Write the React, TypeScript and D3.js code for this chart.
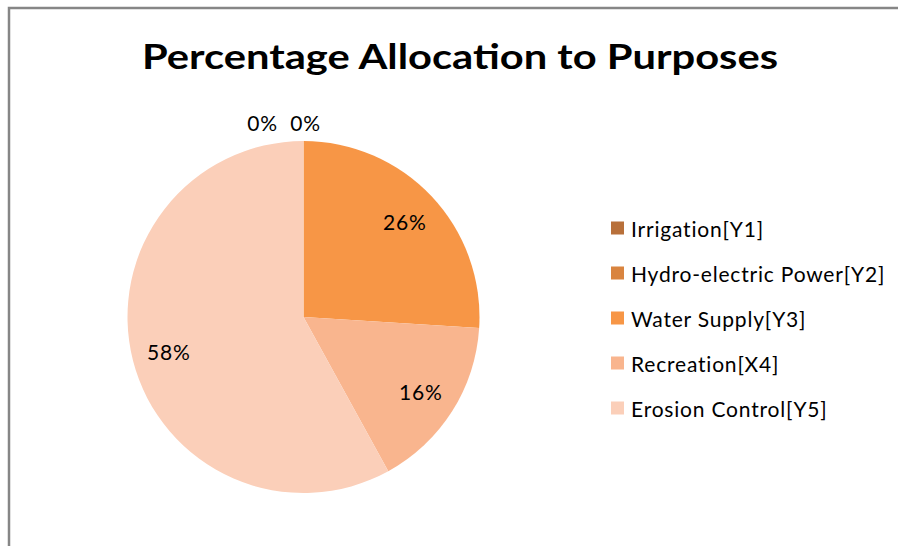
import React from "react";
import * as d3 from "d3";

const categories = [
  "Irrigation[Y1]",
  "Hydro-electric Power[Y2]",
  "Water Supply[Y3]",
  "Recreation[X4]",
  "Erosion Control[Y5]",
];
const values = [0, 0, 26, 16, 58];
const colors = ["#B8703A", "#D9843F", "#F79646", "#F9B58E", "#FBCFB9"];
const title = "Percentage Allocation to Purposes";

const W = 898;
const H = 546;
const cx = 303.5;
const cy = 317;
const R = 176;
const FONT = "Lato, 'Noto Sans', sans-serif";

export default function App() {
  const data = categories.map((c, i) => ({ name: c, value: values[i], color: colors[i] }));
  const pie = d3.pie<any>().sort(null).value((d) => d.value).startAngle(0).endAngle(2 * Math.PI);
  const arcs = pie(data);
  const arc = d3.arc<any>().innerRadius(0).outerRadius(R);
  const labelArc = d3.arc<any>().innerRadius(R * 0.79).outerRadius(R * 0.79);

  const total = d3.sum(values);
  const zeroIdx = arcs.map((a, i) => (a.data.value === 0 ? i : -1)).filter((i) => i >= 0);

  const legendY = d3.scalePoint<string>().domain(categories).range([228, 408]);

  return (
    <svg
      width={W}
      height={H}
      style={{ position: "absolute", left: 0, top: 0, background: "#fff" }}
    >
      <path d={`M9,${H} L9,8 L${W},8`} fill="none" stroke="#868686" strokeWidth={2.5} />
      <text
        x={460}
        y={69}
        textAnchor="middle"
        fontFamily={FONT}
        fontWeight="bold"
        fontSize={35}
        fill="#000"
        textLength={636}
        lengthAdjust="spacingAndGlyphs"
      >
        {title}
      </text>
      <g transform={`translate(${cx},${cy})`}>
        {arcs.map((a, i) => (
          <path key={i} d={arc(a) || ""} fill={a.data.color} />
        ))}
        {arcs.map((a, i) => {
          const pct = Math.round((a.data.value / total) * 100) + "%";
          let x: number, y: number;
          if (a.data.value === 0) {
            const mid = (a.startAngle + a.endAngle) / 2;
            const k = zeroIdx.length - 1 - zeroIdx.indexOf(i);
            x = (R + 19) * Math.sin(mid) + 2 - k * 43;
            y = -(R + 19) * Math.cos(mid);
          } else {
            [x, y] = labelArc.centroid(a);
          }
          return (
            <text
              key={"l" + i}
              x={x}
              y={y}
              textAnchor="middle"
              dominantBaseline="central"
              fontFamily={FONT}
              fontSize={21}
              letterSpacing={0.8}
              fill="#000"
            >
              {pct}
            </text>
          );
        })}
      </g>
      {data.map((d, i) => (
        <g key={"lg" + i} transform={`translate(611,${legendY(d.name)})`}>
          <rect x={0} y={-6.5} width={13} height={13} fill={d.color} />
          <text
            x={20}
            y={0}
            dominantBaseline="central"
            fontFamily={FONT}
            fontSize={21}
            letterSpacing={0.8}
            fill="#000"
          >
            {d.name}
          </text>
        </g>
      ))}
    </svg>
  );
}
